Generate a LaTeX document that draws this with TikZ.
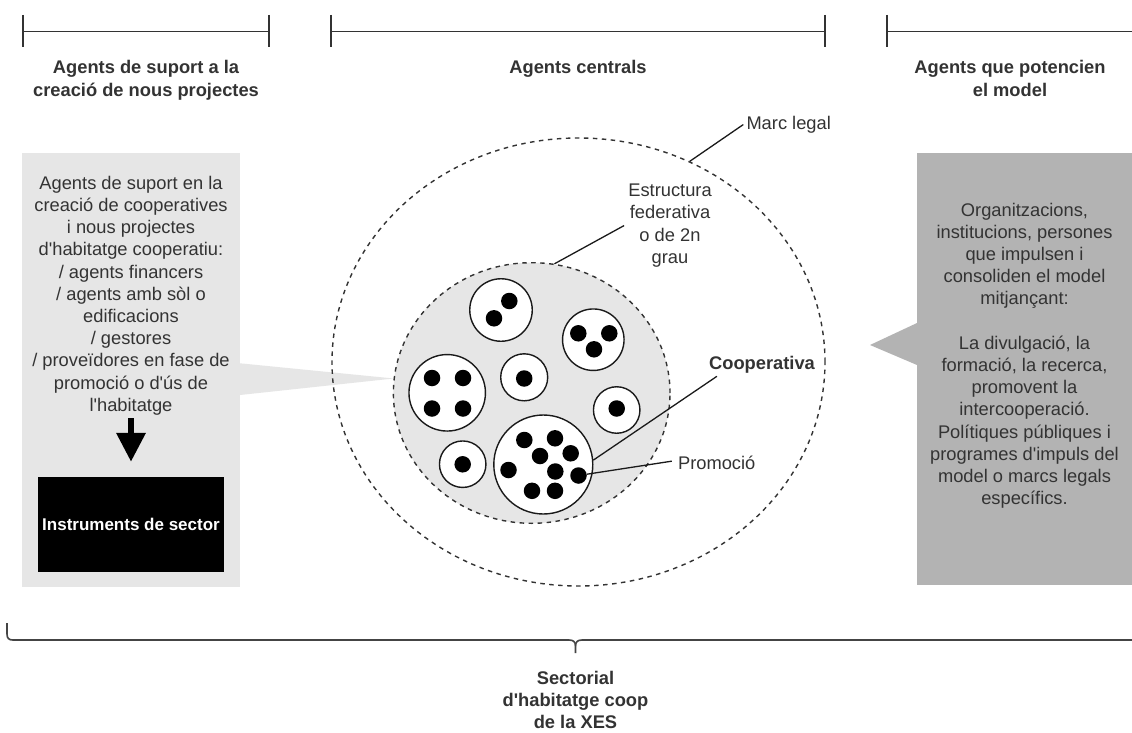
\documentclass[tikz,border=0pt]{standalone}
\usepackage{fontspec}
\setmainfont{Liberation Sans}
\usetikzlibrary{shapes.geometric,arrows.meta}
\pgfdeclarelayer{bg}
\pgfsetlayers{bg,main}
\font\apofont="Liberation Sans" at 18.3pt
\font\apobold="Liberation Sans/B" at 18.3pt
\newcommand\ap{{\apofont'}}
\newcommand\apb{{\apobold'}}
\newcommand\mylines[1]{\begin{tabular}[t]{@{}c@{}}#1\end{tabular}}
\definecolor{txtc}{HTML}{333333}
\definecolor{lgray}{HTML}{E6E6E6}
\definecolor{mgray}{HTML}{B3B3B3}
\definecolor{linec}{HTML}{333333}
\definecolor{ringc}{HTML}{1A1A1A}
\definecolor{bracec}{HTML}{444444}
\begin{document}
\begin{tikzpicture}[x=1pt,y=-1pt,
  txt/.style={inner sep=0pt,text=txtc,font=\fontsize{18.3}{22.2}\selectfont},
  ttl/.style={inner sep=0pt,text=txtc,font=\fontsize{18.3}{22.2}\selectfont\bfseries},
  brk/.style={draw=linec,line width=1.4pt},
  panel/.style={rectangle,draw=none,inner sep=0pt,anchor=north west},
  dashring/.style={ellipse,draw=linec,line width=1.4pt,dash pattern=on 4.5pt off 4.5pt,inner sep=0pt},
  coopc/.style={circle,draw=ringc,line width=1.4pt,fill=white,inner sep=0pt},
  blackdot/.style={circle,fill=black,inner sep=0pt,minimum size=16.5pt},
  leader/.style={draw=ringc,line width=1.3pt},
  bigarrow/.style={draw=black,line width=6.5pt,-{Triangle[width=28pt,length=29pt]}},
  bracepath/.style={draw=bracec,line width=1.6pt},
]
\useasboundingbox (0,0) rectangle (1132,733);

% top brackets
\draw[brk] (23,15) -- (23,47.5) (23,31.7) -- (269,31.7) (269,15) -- (269,47.5);
\draw[brk] (331,15) -- (331,47.5) (331,31.7) -- (825,31.7) (825,15) -- (825,47.5);
\draw[brk] (887,15) -- (887,47.5) (887,31.7) -- (1134,31.7);

% titles
\node[ttl,anchor=base] (t1) at (146,74) {\mylines{Agents de suport a la\\creació de nous projectes}};
\node[ttl,anchor=base] (t2) at (578,74) {Agents centrals};
\node[ttl,anchor=base] (t3) at (1010,74) {\mylines{Agents que potencien\\el model}};

% left panel
\node[panel,fill=lgray,minimum width=218pt,minimum height=434pt] (lb) at (22,153) {};
\node[txt,anchor=base] (ltxt) at (131,189.3) {\mylines{Agents de suport en la\\creació de cooperatives\\i nous projectes\\d\ap habitatge cooperatiu:\\/ agents financers\\/ agents amb sòl o\\edificacions\\/ gestores\\/ proveïdores en fase de\\promoció o d\ap ús de\\l\ap habitatge}};
\node[rectangle,fill=black,text=white,inner sep=0pt,minimum width=186.6pt,minimum height=95pt,font=\fontsize{17}{20}\selectfont\bfseries] (inst) at (131,524.2) {Instruments de sector};
\draw[bigarrow] (ltxt.south) -- ([yshift=14.7pt]inst.north);

% right panel
\node[panel,fill=mgray,minimum width=216pt,minimum height=432pt] (rb) at (916.7,153) {};
\coordinate (rtip) at (870,345);
\fill[mgray] (917,323) -- (rtip) -- (917,365) -- cycle;
\node[txt,anchor=base] (rtxt) at (1024.5,216) {\mylines{Organitzacions,\\institucions, persones\\que impulsen i\\consoliden el model\\mitjançant:\\ \\La divulgació, la\\formació, la recerca,\\promovent la\\intercooperació.\\Polítiques públiques i\\programes d\ap impuls del\\model o marcs legals\\específics.}};

% central rings
\node[dashring,minimum width=493pt,minimum height=448pt] (outer) at (578.5,362) {};
\node[dashring,fill=lgray,minimum width=276.6pt,minimum height=260.6pt] (inner) at (531.7,393) {};

\begin{pgfonlayer}{bg}
\fill[white] (0,0) rectangle (1132,733);
\fill[lgray] (240,363.3) -- (inner.174) -- (240,395) -- cycle;
\end{pgfonlayer}

% cooperatives
\node[coopc,minimum size=62.5pt] (c1) at (501,310) {};
\node[coopc,minimum size=61.5pt] (c2) at (593.3,339.7) {};
\node[coopc,minimum size=76.5pt] (c3) at (447.2,392.8) {};
\node[coopc,minimum size=47pt] (c4) at (524.2,377.3) {};
\node[coopc,minimum size=46.5pt] (c5) at (616.7,410) {};
\node[coopc,minimum size=46.5pt] (c6) at (462.7,464.2) {};
\node[coopc,minimum size=99pt] (c7) at (543.3,464.5) {};

% promotions (dots)
\node[blackdot] (d1a) at (509.3,301) {};
\node[blackdot] (d1b) at (494,318.3) {};
\node[blackdot] (d2a) at (578.3,333.3) {};
\node[blackdot] (d2b) at (609.3,333.3) {};
\node[blackdot] (d2c) at (594,349.3) {};
\node[blackdot] (d3a) at (432,378) {};
\node[blackdot] (d3b) at (463,378) {};
\node[blackdot] (d3c) at (432,408.5) {};
\node[blackdot] (d3d) at (463,408.5) {};
\node[blackdot] (d4a) at (524.2,378.5) {};
\node[blackdot] (d5a) at (616.7,408.5) {};
\node[blackdot] (d6a) at (462.7,464.3) {};
\node[blackdot] (d7a) at (524.3,440) {};
\node[blackdot] (d7b) at (555,438.3) {};
\node[blackdot] (d7c) at (540,456) {};
\node[blackdot] (d7d) at (570.7,453.3) {};
\node[blackdot] (d7e) at (555.3,471.5) {};
\node[blackdot] (d7f) at (578.5,475.5) {};
\node[blackdot] (d7g) at (508.5,470) {};
\node[blackdot] (d7h) at (532,490.8) {};
\node[blackdot] (d7i) at (555,490.8) {};

% labels
\node[txt,anchor=base] (marc) at (788.7,129.3) {Marc legal};
\node[txt,anchor=base] (estr) at (670,196.7) {\mylines{Estructura\\federativa\\o de 2n\\grau}};
\node[ttl,anchor=base] (coopl) at (762,369.3) {Cooperativa};
\node[txt,anchor=base] (prom) at (716.7,469.3) {Promoció};

\draw[leader] ([xshift=-3pt]marc.west) -- (outer.61.3);
\draw[leader] ([xshift=-4pt]estr.west) -- (inner.80);
\draw[leader] ([shift={(8,3)}]coopl.south west) -- (c7.5);
\draw[leader] ([shift={(-6,-1.5)}]prom.west) -- (d7f);

% bottom brace
\draw[bracepath] (7,623) -- (7,634) .. controls (7,638.5) and (9,640) .. (13,640) -- (569,640) .. controls (573.5,640) and (575.5,642) .. (575.5,646) -- (575.5,653);
\draw[bracepath] (1136,640) -- (582,640) .. controls (577.5,640) and (575.5,642) .. (575.5,646);
\node[ttl,anchor=base] (sect) at (575.5,684.5) {\mylines{Sectorial\\d\apb habitatge coop\\de la XES}};
\end{tikzpicture}
\end{document}
